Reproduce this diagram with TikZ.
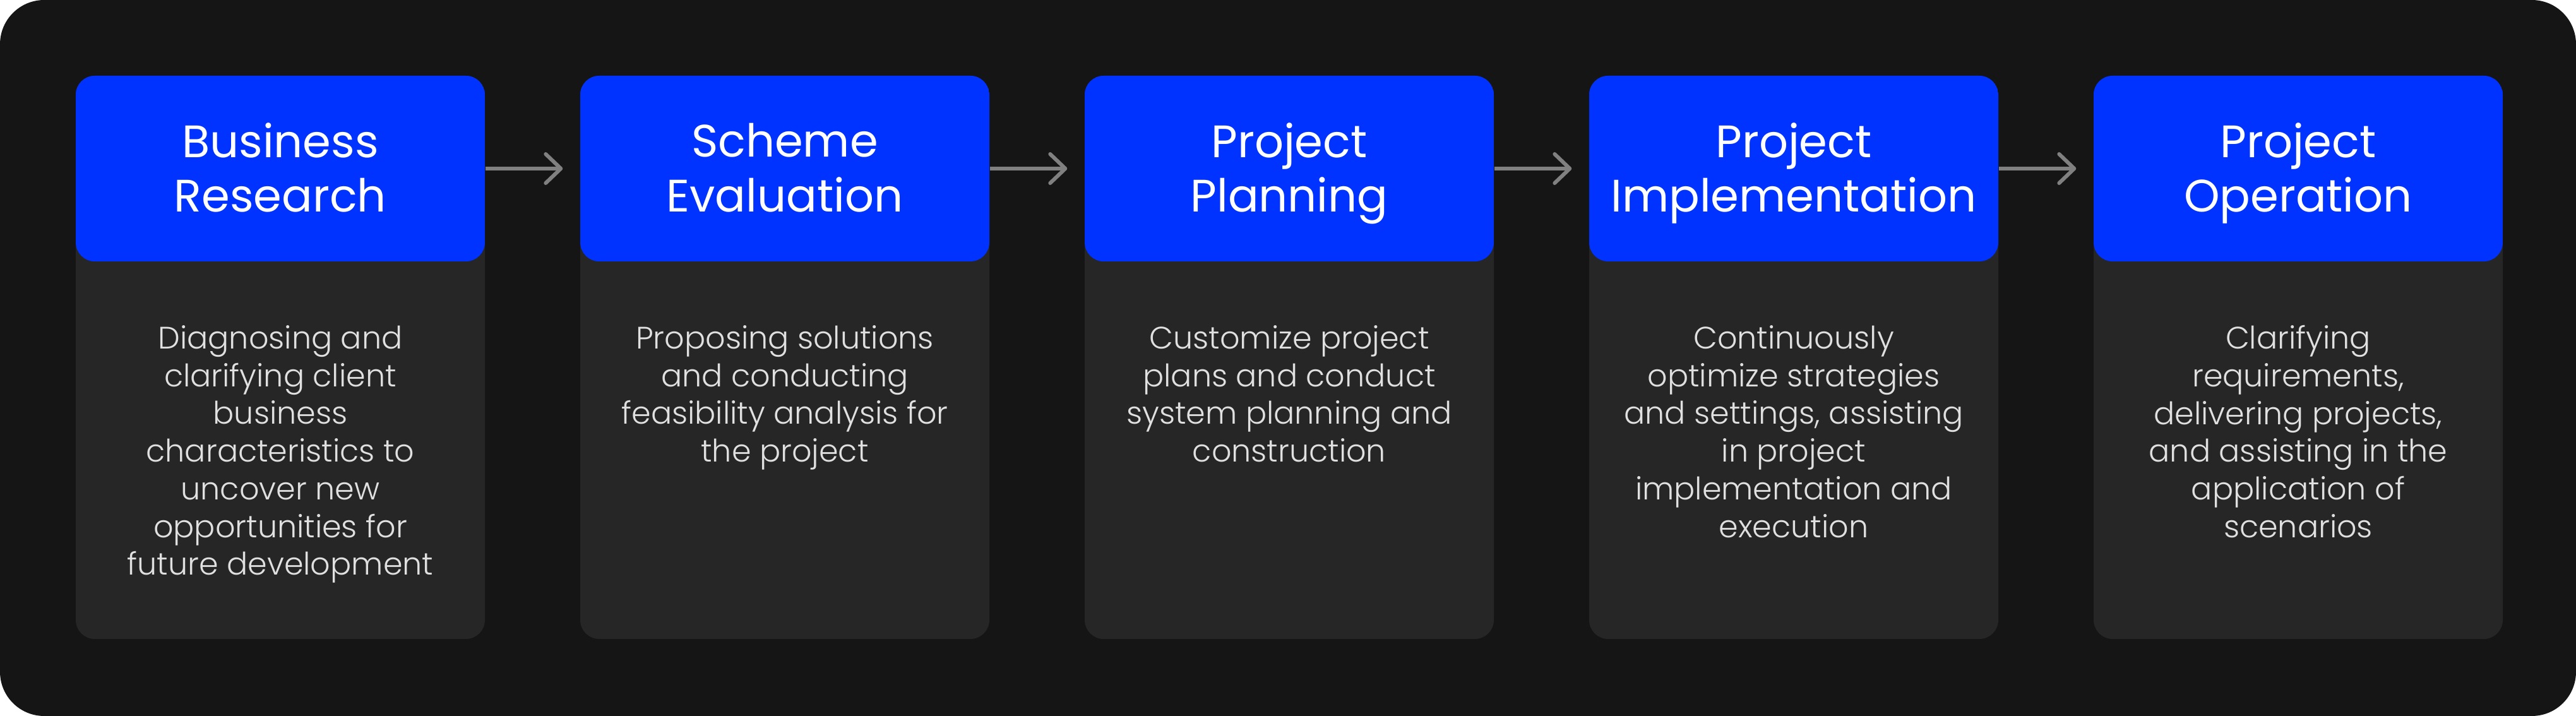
\documentclass[tikz,border=0pt]{standalone}
\usepackage{fontspec}
\setmainfont{Poppins}
\newfontfamily\titlefont{Poppins}
\newfontfamily\bodyfont{Poppins Light}
\usepackage{tikz}
\usetikzlibrary{positioning,arrows.meta}
\usepackage{xcolor}
\definecolor{bgdark}{HTML}{151515}
\definecolor{cardgray}{HTML}{262626}
\definecolor{headblue}{HTML}{0033FF}
\definecolor{arrowgray}{HTML}{808080}
\definecolor{bodytext}{HTML}{E0E0E0}

\tikzset{
  card/.style={rounded corners=3mm,fill=cardgray,minimum width=6.48cm,minimum height=8.92cm,inner sep=0pt,
    path picture={\fill[headblue] (path picture bounding box.north west) rectangle ([yshift=-2.94cm]path picture bounding box.north east);}},
  head/.style={minimum width=6.48cm,minimum height=2.94cm,inner sep=0pt},
  title/.style={inner sep=0pt,align=center,text=white,yshift=-0.8mm,
    font=\titlefont\fontsize{20.5}{24.5}\selectfont,execute at end node=\rule[-5.5pt]{0pt}{5.5pt}},
  desc/.style={inner sep=0pt,align=center,text=bodytext,font=\bodyfont\fontsize{14}{17}\selectfont},
  flow/.style={draw=arrowgray,line width=1.7pt,-{Straight Barb[length=2.4mm,width=4.6mm,line width=1.7pt,round]}}
}

\begin{document}
\begin{tikzpicture}
\useasboundingbox (0,0) rectangle (40.8,11.34);
\fill[bgdark,rounded corners=7mm] (0,0) rectangle (40.8,11.34);

\node[card] (card1) at (4.44,5.68) {};
\node[card] (card2) at (12.43,5.68) {};
\node[card] (card3) at (20.42,5.68) {};
\node[card] (card4) at (28.41,5.68) {};
\node[card] (card5) at (36.40,5.68) {};

% blue bands
\node[head,below=0pt of card1.north] (head1) {};
\node[head,below=0pt of card2.north] (head2) {};
\node[head,below=0pt of card3.north] (head3) {};
\node[head,below=0pt of card4.north] (head4) {};
\node[head,below=0pt of card5.north] (head5) {};

\node[title] (title1) at (head1) {Business\\Research};
\node[title] (title2) at (head2) {Scheme\\Evaluation};
\node[title] (title3) at (head3) {Project\\Planning};
\node[title] (title4) at (head4) {Project\\Implementation};
\node[title] (title5) at (head5) {Project\\Operation};

\node[desc,below=1.0cm of head1] (desc1) {Diagnosing and\\clarifying client\\business\\characteristics to\\uncover new\\opportunities for\\future development};
\node[desc,below=1.0cm of head2] (desc2) {Proposing solutions\\and conducting\\feasibility analysis for\\the project};
\node[desc,below=1.0cm of head3] (desc3) {Customize project\\plans and conduct\\system planning and\\construction};
\node[desc,below=1.0cm of head4] (desc4) {Continuously\\optimize strategies\\and settings, assisting\\in project\\implementation and\\execution};
\node[desc,below=1.0cm of head5] (desc5) {Clarifying\\requirements,\\delivering projects,\\and assisting in the\\application of\\scenarios};

\draw[flow] (head1.east) -- ([xshift=-2.7mm]head2.west);
\draw[flow] (head2.east) -- ([xshift=-2.7mm]head3.west);
\draw[flow] (head3.east) -- ([xshift=-2.7mm]head4.west);
\draw[flow] (head4.east) -- ([xshift=-2.7mm]head5.west);
\end{tikzpicture}
\end{document}
